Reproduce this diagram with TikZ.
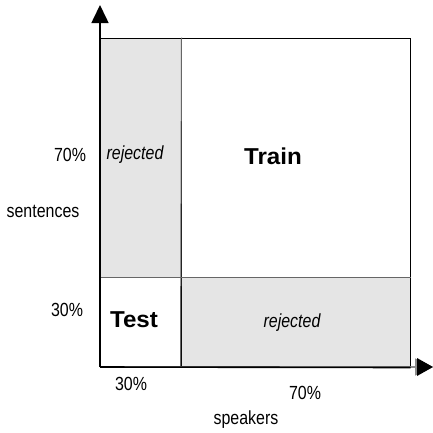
\documentclass[tikz,border=0pt]{standalone}
\usepackage{fontspec}
\setmainfont{Liberation Sans}
\newfontfamily\narrowsans[FakeStretch=0.84]{Liberation Sans}
\newfontfamily\widesans[FakeStretch=1.05]{Liberation Sans}
\usetikzlibrary{arrows.meta}

\begin{document}
\begin{tikzpicture}[x=1pt,y=-1pt]

    \tikzstyle{cell} = [rectangle, inner sep=0pt, draw=black, line width=1pt]
    \tikzstyle{rejcell} = [cell, fill=black!10]
    \tikzstyle{axis} = [line width=1.6pt, -{Triangle[length=18pt,width=17pt]}]
    \tikzstyle{axislabel} = [font=\narrowsans\fontsize{19}{21}\selectfont]
    \tikzstyle{rejlabel} = [font=\narrowsans\fontsize{19}{21}\selectfont\itshape]
    \tikzstyle{setlabel} = [font=\widesans\fontsize{23}{26}\selectfont\bfseries]

    \useasboundingbox (0,0) rectangle (433,432);

    % cells of the split
    \node (rejtop) [rejcell, minimum width=81pt, minimum height=239pt] at (140.5,157.5) {};
    \node (train) [cell, minimum width=229pt, minimum height=239pt] at (295.5,157.5) {};
    \node (test) [cell, minimum width=81pt, minimum height=90pt] at (140.5,322) {};
    \node (rejbot) [rejcell, minimum width=229pt, minimum height=90pt] at (295.5,322) {};
    \draw [black!60, line width=1pt] (rejtop.north east) -- (rejbot.south west);
    \draw [black!60, line width=1pt] (rejtop.south west) -- (train.south east);

    % texts in the cells
    \node (rejtoptext) [rejlabel] at (135,155) {rejected};
    \node (traintext) [setlabel] at (273,156) {Train};
    \node (testtext) [setlabel] at (134,320) {Test};
    \node (rejbottext) [rejlabel] at (292,323) {rejected};

    % axes
    \coordinate (origin) at (100,367);
    \coordinate (ytip) at (100,5);
    \coordinate (xtip) at (433,367);
    \draw [axis] (origin) -- (ytip);
    \draw [axis, black!45] (origin) -- (xtip);
    \draw [line width=1.6pt] (origin) -- (rejbot.south east);
    \fill (xtip) -- ++(-16,-9) -- ++(0,18) -- cycle;

    % axis labels
    \node (sent70) [axislabel] at (70,155) {70\%};
    \node (sentences) [axislabel] at (43,211) {sentences};
    \node (sent30) [axislabel] at (67,310) {30\%};
    \node (spk30) [axislabel] at (131,384) {30\%};
    \node (spk70) [axislabel] at (305,393) {70\%};
    \node (speakers) [axislabel] at (246,420) {speakers};

\end{tikzpicture}
\end{document}
